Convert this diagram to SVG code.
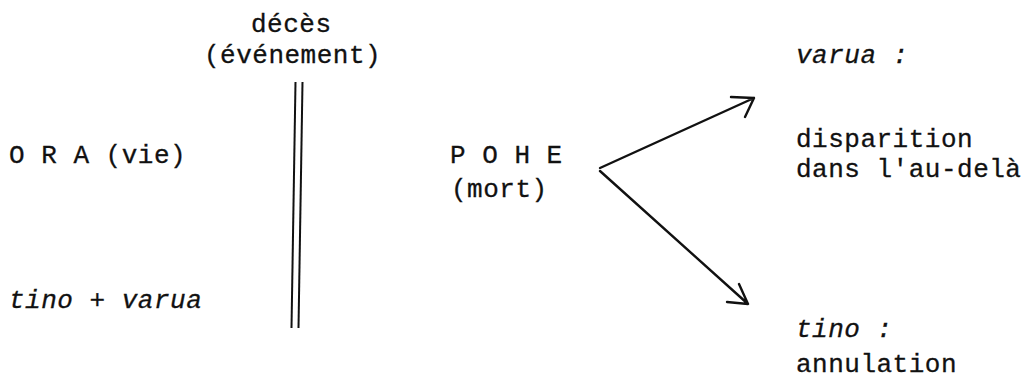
<svg xmlns="http://www.w3.org/2000/svg" width="1030" height="378" viewBox="0 0 1030 378">
<style>
.t{font-family:"Liberation Mono","Courier New",monospace;font-size:26px;fill:#111;stroke:#111;stroke-width:0.3;letter-spacing:0.5px}
.i{font-family:"Liberation Mono","Courier New",monospace;font-size:26px;font-style:italic;fill:#111;stroke:#111;stroke-width:0.3;letter-spacing:0.5px}
.c{stroke:#111;stroke-width:2.4;fill:none;stroke-linecap:round;stroke-linejoin:round}
.d{stroke:#111;stroke-width:2;fill:none}
</style>
<rect width="1030" height="378" fill="#fff"/>
<g id="deces">
<text class="t" x="251" y="32">décès</text>
<text class="t" x="204" y="63">(événement)</text>
</g>
<g id="barrier">
<line class="d" x1="295.5" y1="82" x2="291.5" y2="328"/>
<line class="d" x1="302.5" y1="82" x2="298.5" y2="328"/>
</g>
<g id="ora">
<text class="t" x="9" y="163">O R A (vie)</text>
<text class="i" x="9" y="308">tino + varua</text>
</g>
<g id="pohe">
<text class="t" x="450" y="163">P O H E</text>
<text class="t" x="451" y="197">(mort)</text>
</g>
<g id="varua">
<text class="i" x="796" y="63">varua :</text>
<text class="t" x="796" y="147">disparition</text>
<text class="t" x="796" y="177">dans l'au-delà</text>
</g>
<g id="tino">
<text class="i" x="796" y="337">tino :</text>
<text class="t" x="796" y="372">annulation</text>
</g>
<g id="connectors">
<path class="c" d="M600 168 L754 98 M731 97 L754 98 L745 117"/>
<path class="c" d="M600 171 L748 304 M727 302 L748 304 L739 284"/>
</g>
</svg>
